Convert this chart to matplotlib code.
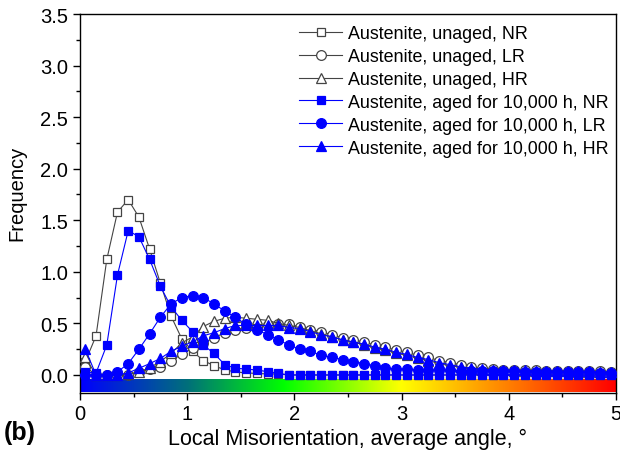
import numpy as np
import matplotlib
matplotlib.use("Agg")
import matplotlib.pyplot as plt
from matplotlib.colors import LinearSegmentedColormap
from matplotlib.ticker import MultipleLocator

plt.rcParams.update({"font.family": ["Liberation Sans", "DejaVu Sans"], "font.size": 12,
                     "axes.linewidth": 1.0})

# bin centres of the local misorientation histogram (0.1 deg bins)
angle = np.round(np.arange(0.05, 5.0, 0.1), 2)

unaged_nr = [0.13, 0.38, 1.12, 1.58, 1.70, 1.53, 1.22, 0.89, 0.57, 0.35,
             0.23, 0.14, 0.09, 0.05, 0.03, 0.02, 0.015, 0.01, 0.01, 0.0,
             0, 0, 0, 0, 0, 0, 0, 0, 0, 0,
             0, 0, 0, 0, 0, 0, 0, 0, 0, 0,
             0, 0, 0, 0, 0, 0, 0, 0, 0, 0]
unaged_lr = [0.08, 0.0, 0.0, 0.0, 0.0, 0.026, 0.06, 0.08, 0.14, 0.20,
             0.26, 0.31, 0.36, 0.41, 0.44, 0.46, 0.47, 0.48, 0.49, 0.49,
             0.47, 0.44, 0.42, 0.39, 0.36, 0.34, 0.32, 0.29, 0.27, 0.24,
             0.22, 0.19, 0.17, 0.14, 0.12, 0.10, 0.08, 0.065, 0.055, 0.05,
             0.05, 0.045, 0.045, 0.04, 0.04, 0.04, 0.035, 0.035, 0.035, 0.03]
unaged_hr = [0.17, 0.0, 0.0, 0.0, 0.01, 0.03, 0.07, 0.13, 0.21, 0.31,
             0.37, 0.47, 0.52, 0.55, 0.56, 0.55, 0.54, 0.53, 0.50, 0.48,
             0.46, 0.43, 0.40, 0.37, 0.34, 0.32, 0.29, 0.26, 0.24, 0.21,
             0.19, 0.16, 0.14, 0.11, 0.09, 0.075, 0.06, 0.05, 0.045, 0.045,
             0.04, 0.04, 0.04, 0.035, 0.035, 0.035, 0.03, 0.03, 0.03, 0.025]
aged_nr = [0.03, 0.02, 0.29, 0.97, 1.40, 1.34, 1.12, 0.86, 0.66, 0.53,
           0.42, 0.29, 0.21, 0.10, 0.065, 0.058, 0.048, 0.032, 0.016, 0.0,
           0, 0, 0, 0, 0, 0, 0, 0, 0, 0,
           0, 0, 0, 0, 0, 0, 0, 0, 0, 0,
           0, 0, 0, 0, 0, 0, 0, 0, 0, 0]
aged_lr = [0.0, 0.0, 0.0, 0.03, 0.11, 0.25, 0.40, 0.56, 0.69, 0.75,
           0.77, 0.75, 0.69, 0.62, 0.56, 0.49, 0.44, 0.39, 0.34, 0.29,
           0.25, 0.23, 0.19, 0.17, 0.15, 0.13, 0.11, 0.09, 0.065, 0.06,
           0.055, 0.05, 0.05, 0.045, 0.045, 0.04, 0.04, 0.04, 0.035, 0.035,
           0.035, 0.03, 0.03, 0.03, 0.03, 0.025, 0.025, 0.025, 0.02, 0.02]
aged_hr = [0.25, 0.0, 0.0, 0.0, 0.02, 0.065, 0.11, 0.16, 0.23, 0.28,
           0.32, 0.38, 0.41, 0.45, 0.48, 0.48, 0.48, 0.48, 0.48, 0.46,
           0.45, 0.42, 0.39, 0.37, 0.34, 0.32, 0.30, 0.27, 0.25, 0.22,
           0.20, 0.17, 0.15, 0.12, 0.10, 0.08, 0.065, 0.055, 0.05, 0.05,
           0.045, 0.045, 0.04, 0.04, 0.04, 0.035, 0.035, 0.035, 0.03, 0.03]

labels = ["Austenite, unaged, NR", "Austenite, unaged, LR", "Austenite, unaged, HR",
          "Austenite, aged for 10,000 h, NR", "Austenite, aged for 10,000 h, LR",
          "Austenite, aged for 10,000 h, HR"]

GRAY, BLUE = "#444444", "#0000ff"
# KAM colour key drawn under the zero line
kam = LinearSegmentedColormap.from_list(
    "kam", [(0.0, "#0000ff"), (0.2, "#00707a"), (0.38, "#00ff00"),
            (0.6, "#ffff00"), (1.0, "#ff0000")])

fig = plt.figure(figsize=(6.2, 4.52), dpi=100)
ax = fig.add_axes([0.129, 0.1294, 0.8645, 0.8374])

ax.imshow(np.linspace(0, 1, 256)[None, :], cmap=kam, aspect="auto",
          extent=(0, 5, -0.165, -0.04), zorder=1)

series = [(unaged_nr, "s", GRAY, "white"), (unaged_lr, "o", GRAY, "white"),
          (unaged_hr, "^", GRAY, "white"), (aged_nr, "s", BLUE, BLUE),
          (aged_lr, "o", BLUE, BLUE), (aged_hr, "^", BLUE, BLUE)]
for (vals, mk, col, face), lbl in zip(series, labels):
    ms = 6.3 if mk == "s" else 7
    ax.plot(angle, vals, color=col, lw=0.8, marker=mk, ms=ms, mfc=face,
            mec=col if face == "white" else BLUE, mew=0.9, label=lbl, zorder=3)

ax.set_xlim(0, 5)
ax.set_ylim(-0.17, 3.5)
ax.xaxis.set_major_locator(MultipleLocator(1))
ax.xaxis.set_minor_locator(MultipleLocator(0.5))
ax.yaxis.set_major_locator(MultipleLocator(0.5))
ax.yaxis.set_minor_locator(MultipleLocator(0.25))
ax.set_yticks(np.arange(0, 3.51, 0.5))
ax.tick_params(which="both", direction="out", top=False, right=False, labelsize=14.5)
ax.tick_params(which="major", length=5, width=1)
ax.tick_params(which="minor", length=3, width=1)
ax.yaxis.set_major_formatter(plt.FuncFormatter(lambda v, p: f"{v:.1f}"))

ax.set_xlabel("Local Misorientation, average angle, °", fontsize=15.5, labelpad=3)
ax.set_ylabel("Frequency", fontsize=14.5)
ax.yaxis.set_label_coords(-0.1, 0.53)

leg = ax.legend(loc="upper right", frameon=False, fontsize=12.9, handlelength=2.4,
                handletextpad=0.33, labelspacing=0.33, borderaxespad=0.1,
                borderpad=0.3, bbox_to_anchor=(1.0, 0.99))

fig.text(0.006, 0.026, "(b)", fontsize=18, fontweight="bold")

fig.savefig("out.png", dpi=100)
